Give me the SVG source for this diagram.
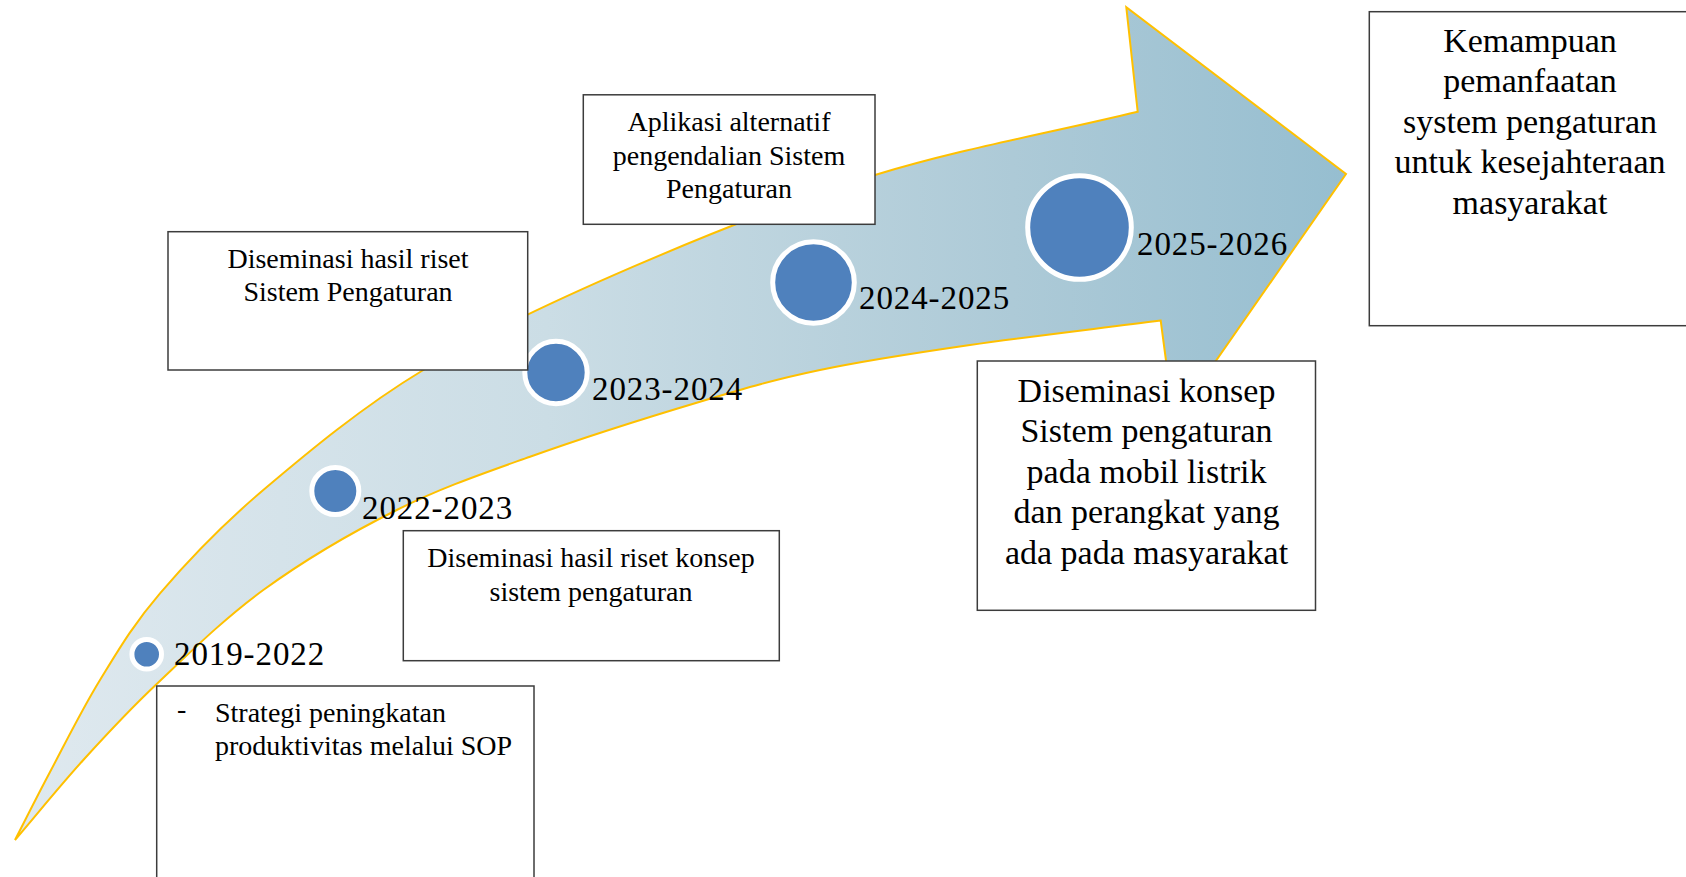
<svg xmlns="http://www.w3.org/2000/svg" width="1686" height="877" viewBox="0 0 1686 877">
  <defs>
    <linearGradient id="arrowFill" gradientUnits="userSpaceOnUse" x1="15" y1="0" x2="1346" y2="0">
      <stop offset="0" stop-color="#dfe9ef"/>
      <stop offset="0.4" stop-color="#cbdde5"/>
      <stop offset="0.75" stop-color="#adcad7"/>
      <stop offset="1" stop-color="#96bed0"/>
    </linearGradient>
  </defs>
  <style>
    .box { fill: #ffffff; stroke: #3c3c3c; stroke-width: 1.5; }
    .dot { fill: #4f81bd; stroke: #ffffff; stroke-width: 5; }
    .yr { font-family: "Liberation Serif", "Times New Roman", serif; font-size: 33px; letter-spacing: 0.9px; fill: #000000; }
    .t28 { font-family: "Liberation Serif", "Times New Roman", serif; font-size: 28px; fill: #000000; }
    .t34 { font-family: "Liberation Serif", "Times New Roman", serif; font-size: 34px; fill: #000000; }
    .mid { text-anchor: middle; }
  </style>
  <rect x="0" y="0" width="1686" height="877" fill="#ffffff"/>

  <g id="connectors">
    <path id="arrow" fill="url(#arrowFill)" stroke="#ffc000" stroke-width="2" stroke-linejoin="miter"
      d="M 15,840 C 26.7,817.3 35.8,798.7 50,772 C 64.2,745.3 81.7,709.8 100,680 C 118.3,650.2 132.8,625 160,593.3 C 187.2,561.6 219.4,527.2 263.3,490 C 307.2,452.8 361.6,407.2 423.3,370 C 485,332.8 558,299.2 633.3,266.7 C 708.6,234.2 790.9,200.8 875,175 C 959.1,149.2 1050.1,132.8 1137.7,111.7
         L 1126.3,7.3 L 1346,174 L 1174,421 L 1160.7,320.5
         C 1097.1,328.7 1026.8,336.75 970,345 C 913.2,353.25 865,360.55 820,370 C 775,379.45 748.3,387.25 700,401.7 C 651.7,416.15 580.55,438.65 530,456.7 C 479.45,474.75 441.15,487.8 396.7,510 C 352.25,532.2 303.3,561 263.3,590 C 223.3,619 186.7,655.7 156.7,684 C 126.7,712.3 106.9,734 83.3,760 C 59.7,786 37.8,813.3 15,840 Z"/>
  </g>

  <g id="node-2019">
    <circle class="dot" cx="146.7" cy="654.3" r="14.8"/>
    <text class="yr" x="174" y="665">2019-2022</text>
  </g>
  <g id="node-2022">
    <circle class="dot" cx="335.3" cy="491" r="23.5"/>
    <text class="yr" x="362" y="518.5">2022-2023</text>
  </g>
  <g id="node-2023">
    <circle class="dot" cx="556" cy="372.5" r="31.2"/>
    <text class="yr" x="592" y="399.5">2023-2024</text>
  </g>
  <g id="node-2024">
    <circle class="dot" cx="813.5" cy="282.5" r="40.8"/>
    <text class="yr" x="859" y="309.3">2024-2025</text>
  </g>
  <g id="node-2025">
    <circle class="dot" cx="1079.5" cy="227.5" r="51.8"/>
    <text class="yr" x="1137" y="254.5">2025-2026</text>
  </g>

  <g id="box-strategi">
    <rect class="box" x="156.7" y="686" width="377.3" height="220"/>
    <text class="t28" x="177" y="718">-</text>
    <text class="t28" x="215" y="722">Strategi peningkatan</text>
    <text class="t28" x="215" y="755">produktivitas melalui SOP</text>
  </g>

  <g id="box-diseminasi-konsep-riset">
    <rect class="box" x="403.3" y="530.7" width="376" height="130"/>
    <text class="t28 mid" x="591" y="566.7">Diseminasi hasil riset konsep</text>
    <text class="t28 mid" x="591" y="600.7">sistem pengaturan</text>
  </g>

  <g id="box-diseminasi-hasil">
    <rect class="box" x="168" y="231.7" width="359.7" height="138.3"/>
    <text class="t28 mid" x="348" y="268.3">Diseminasi hasil riset</text>
    <text class="t28 mid" x="348" y="300.7">Sistem Pengaturan</text>
  </g>

  <g id="box-aplikasi">
    <rect class="box" x="583.3" y="94.8" width="291.7" height="129.5"/>
    <text class="t28 mid" x="729" y="131">Aplikasi alternatif</text>
    <text class="t28 mid" x="729" y="164.5">pengendalian Sistem</text>
    <text class="t28 mid" x="729" y="198">Pengaturan</text>
  </g>

  <g id="box-diseminasi-konsep">
    <rect class="box" x="977.3" y="361" width="338.2" height="249.3"/>
    <text class="t34 mid" x="1146.5" y="401.7">Diseminasi konsep</text>
    <text class="t34 mid" x="1146.5" y="442.2">Sistem pengaturan</text>
    <text class="t34 mid" x="1146.5" y="482.7">pada mobil listrik</text>
    <text class="t34 mid" x="1146.5" y="523.4">dan perangkat yang</text>
    <text class="t34 mid" x="1146.5" y="564">ada pada masyarakat</text>
  </g>

  <g id="box-kemampuan">
    <rect class="box" x="1369.3" y="11.7" width="322" height="314"/>
    <text class="t34 mid" x="1530" y="52">Kemampuan</text>
    <text class="t34 mid" x="1530" y="92.4">pemanfaatan</text>
    <text class="t34 mid" x="1530" y="132.8">system pengaturan</text>
    <text class="t34 mid" x="1530" y="173.2">untuk kesejahteraan</text>
    <text class="t34 mid" x="1530" y="213.6">masyarakat</text>
  </g>
</svg>
